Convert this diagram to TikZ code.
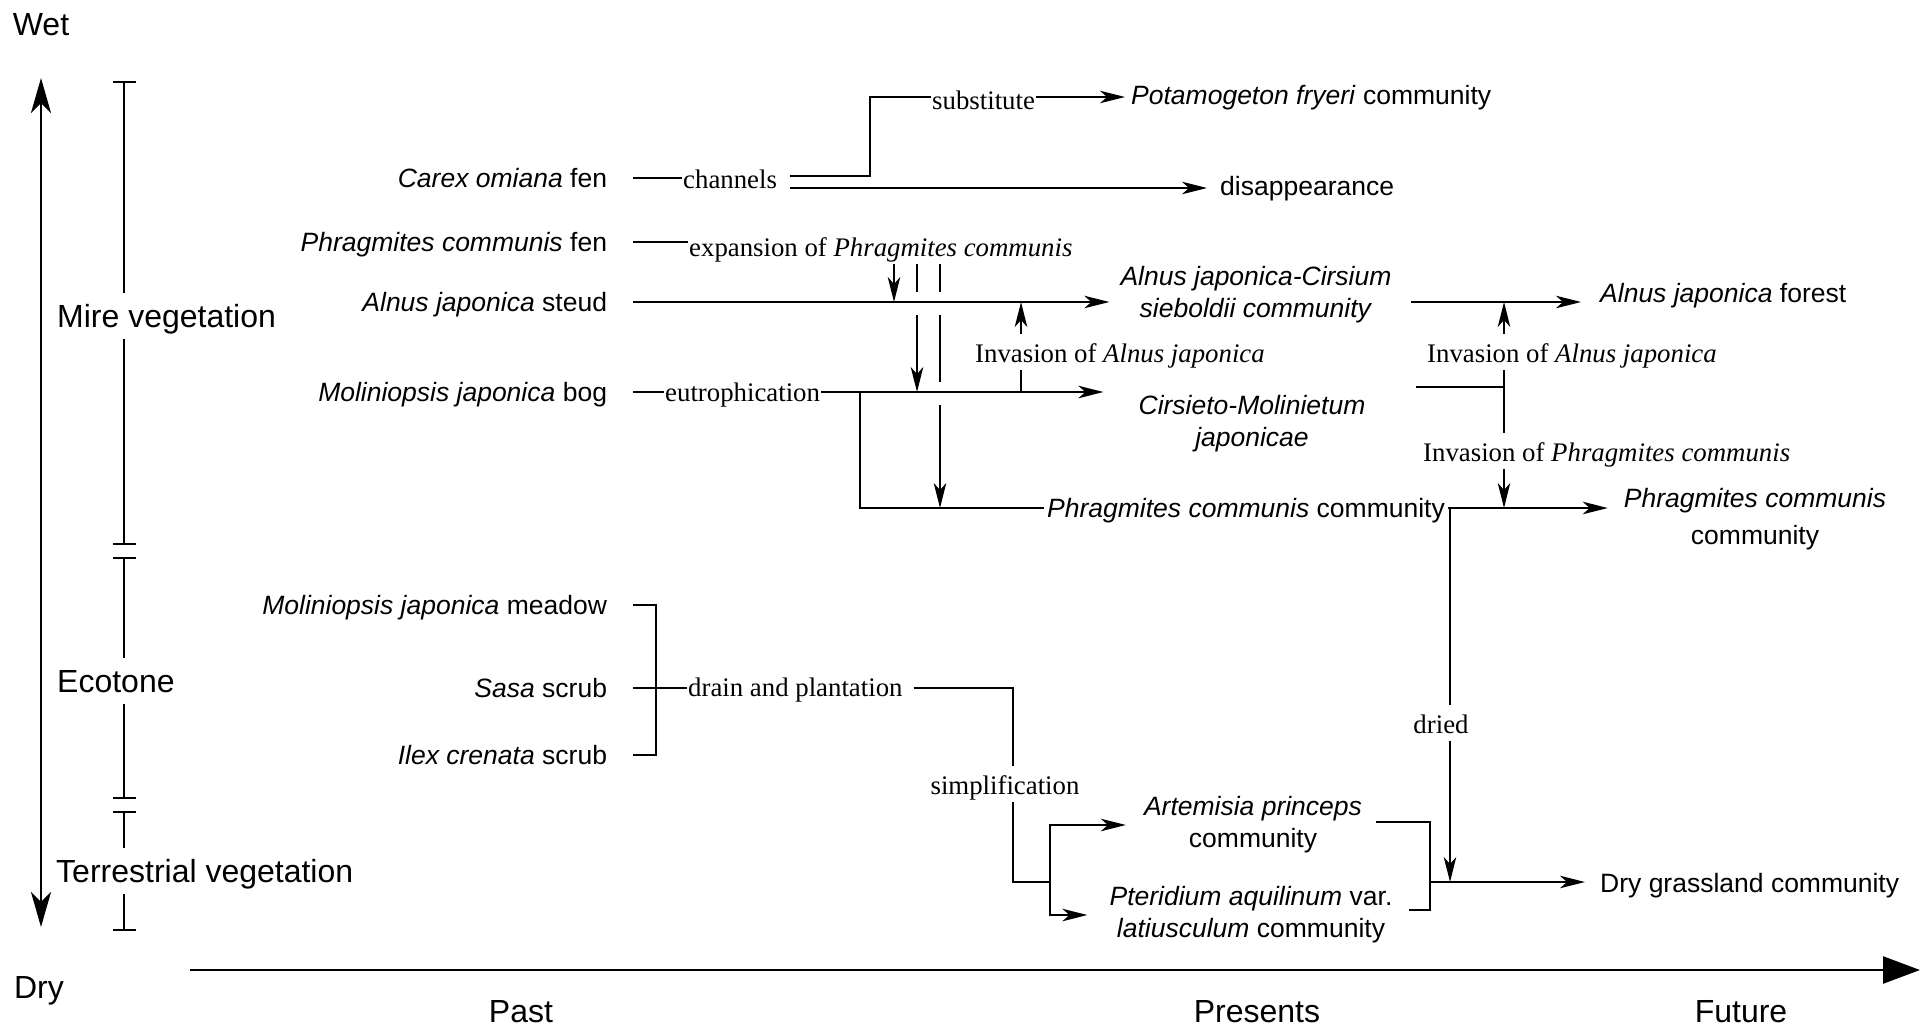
\documentclass[tikz,border=0pt]{standalone}
\usepackage{fontspec}
\setmainfont{Liberation Serif}
\setsansfont{Liberation Sans}
\usetikzlibrary{arrows.meta}

\newcommand{\labelfont}{\sffamily\fontsize{26.5}{32}\selectfont}
\newcommand{\notefont}{\rmfamily\fontsize{26.8}{32}\selectfont}
\newcommand{\axisfont}{\sffamily\fontsize{32}{38}\selectfont}

\begin{document}
\begin{tikzpicture}[x=1pt,y=-1pt,
  lbl/.style={font=\labelfont,text height=19pt,text depth=0pt,inner sep=3pt},
  src/.style={lbl,anchor=east,inner xsep=0pt,outer xsep=26pt},
  two/.style={font=\labelfont,align=center,inner sep=3pt},
  note/.style={font=\notefont,text height=21pt,text depth=0pt,inner xsep=1pt,inner ysep=7.5pt},
  zone/.style={font=\axisfont,text height=23pt,text depth=0pt,inner xsep=0pt,inner ysep=11pt,anchor=west},
  axislbl/.style={font=\axisfont,text height=23pt,text depth=0pt},
  link/.style={line width=2pt},
  thinlink/.style={line width=1.7pt},
  flow/.style={link,-{Stealth[length=25pt,width=12.5pt,inset=7pt]}},
  drop/.style={thinlink,-{Stealth[length=25pt,width=12.5pt,inset=7pt]}},
  zonebar/.style={line width=2pt},
  gapend/.style={shorten >=10pt},
  gapstart/.style={shorten <=13pt},
  moist/.style={line width=2.6pt,{Stealth[length=35pt,width=20pt,inset=10pt]}-{Stealth[length=35pt,width=20pt,inset=10pt]}},
  timeline/.style={line width=2.4pt,-{Triangle[length=37pt,width=27pt]}}]
\useasboundingbox (0,0) rectangle (1920,1026);

% Axis words
\node[axislbl] (wet) at (41,24) {Wet};
\node[axislbl] (dry) at (39,987) {Dry};
\node[axislbl] (past) at (521,1011) {Past};
\node[axislbl] (pres) at (1257,1011) {Presents};
\node[axislbl] (fut) at (1741,1011) {Future};

% Wet - dry gradient and time axis
\coordinate (wtop) at (41,78);
\coordinate (wbot) at (41,927);
\draw[moist] (wtop) -- (wbot);
\coordinate (tstart) at (190,970);
\coordinate (tend) at (1920,970);
\draw[timeline] (tstart) -- (tend);

% Vegetation zones
\node[zone] (mire) at (57,316) {Mire vegetation};
\node[zone] (eco) at (57,681) {Ecotone};
\node[zone] (terr) at (56,871) {Terrestrial vegetation};
\coordinate (z1) at (124,81);
\coordinate (z2) at (124,545);
\coordinate (z3) at (124,557);
\coordinate (z4) at (124,799);
\coordinate (z5) at (124,811);
\coordinate (z6) at (124,931);
\draw[zonebar,{Bar[width=23pt]}-] (z1) -- (z1 |- mire.north);
\draw[zonebar,-{Bar[width=23pt]}] (z1 |- mire.south) -- (z2);
\draw[zonebar,{Bar[width=23pt]}-] (z3) -- (z3 |- eco.north);
\draw[zonebar,-{Bar[width=23pt]}] (z3 |- eco.south) -- (z4);
\draw[zonebar,{Bar[width=23pt]}-] (z5) -- (z5 |- terr.north);
\draw[zonebar,-{Bar[width=23pt]}] (z5 |- terr.south) -- (z6);

% Past communities
\node[src] (carex) at (633,178) {\textit{Carex omiana} fen};
\node[src] (phfen) at (633,242) {\textit{Phragmites communis} fen};
\node[src] (alnus) at (633,302) {\textit{Alnus japonica} steud};
\node[src] (molbog) at (633,392) {\textit{Moliniopsis japonica} bog};
\node[src] (molmead) at (633,605) {\textit{Moliniopsis japonica} meadow};
\node[src] (sasa) at (633,688) {\textit{Sasa} scrub};
\node[src] (ilex) at (633,755) {\textit{Ilex crenata} scrub};

% Processes
\node[note,anchor=west] (chan) at (682,178) {channels};
\node[note,anchor=west] (subst) at (931,99) {substitute};
\node[note,anchor=west] (expn) at (688,246) {expansion of \textit{Phragmites communis}};
\node[note,anchor=west] (eutro) at (664,391) {eutrophication};
\node[note,anchor=west] (invA) at (974,352) {Invasion of \textit{Alnus japonica}};
\node[note,anchor=west] (invB) at (1426,352) {Invasion of \textit{Alnus japonica}};
\node[note,anchor=west] (invC) at (1422,451) {Invasion of \textit{Phragmites communis}};
\node[note,anchor=west] (drain) at (687,686) {drain and plantation};
\node[note] (simpl) at (1005,784) {simplification};
\node[note] (dried) at (1441,723) {dried};

% Present and future communities
\node[lbl,anchor=west] (potam) at (1128,95) {\textit{Potamogeton fryeri} community};
\node[lbl,anchor=west] (disap) at (1217,186) {disappearance};
\node[two] (alcir) at (1256,295) {\textit{Alnus japonica-Cirsium}\\\textit{sieboldii community}};
\node[two] (cirmol) at (1252,424) {\textit{Cirsieto-Molinietum}\\\textit{japonicae}};
\node[lbl,anchor=west] (alfor) at (1597,293) {\textit{Alnus japonica} forest};
\node[lbl,anchor=west] (phcom) at (1044,508) {\textit{Phragmites communis} community};
\node[two,font=\sffamily\fontsize{26.5}{37}\selectfont] (phfut) at (1755,519) {\textit{Phragmites communis}\\community};
\node[two] (artem) at (1253,825) {\textit{Artemisia princeps}\\community};
\node[two] (pterid) at (1251,915) {\textit{Pteridium aquilinum} var.\\\textit{latiusculum} community};
\node[lbl,anchor=west] (drygr) at (1597,883) {Dry grassland community};

% Carex fen
\draw[link] (carex.east) -- (chan.west);
\coordinate (chup) at (790,176);
\coordinate (chdn) at (790,188);
\coordinate (chbend) at (870,97);
\draw[link] (chup) -| (chbend) -- (chbend -| subst.west);
\draw[flow,shorten >=3pt] (subst.east |- chbend) -- (potam.west |- chbend);
\draw[flow,shorten >=10pt] (chdn) -- (disap.west |- chdn);

% Phragmites fen
\draw[link] (phfen.east) -- (phfen.east -| expn.west);
\coordinate (j1) at (894,302);
\coordinate (j2) at (917,392);
\coordinate (j3) at (940,508);
\draw[drop] (expn.south -| j1) -- (j1);
\draw[thinlink,gapend] (expn.south -| j2) -- (j2 |- j1);
\draw[drop,gapstart] (j2 |- j1) -- (j2);
\draw[thinlink,gapend] (expn.south -| j3) -- (j3 |- j1);
\draw[thinlink,gapstart,gapend] (j3 |- j1) -- (j3 |- j2);
\draw[drop,gapstart] (j3 |- j2) -- (j3);

% Alnus steud
\draw[flow,shorten >=8pt] (alnus.east) -- (alnus.east -| alcir.west);
\coordinate (k1) at (1021,302);
\coordinate (k1b) at (1021,392);
\draw[drop] (invA.north -| k1) -- (k1);
\draw[thinlink] (invA.south -| k1b) -- (k1b);

% Moliniopsis bog
\draw[link] (molbog.east) -- (molbog.east -| eutro.west);
\draw[flow,shorten >=32pt] (eutro.east |- molbog.east) -- (molbog.east -| cirmol.west);
\coordinate (br) at (860,392);
\draw[link] (br) |- (phcom.west);

% Towards the future
\coordinate (k2) at (1504,302);
\draw[flow,shorten <=16pt,shorten >=16pt] (alcir.east |- k2) -- (alfor.west |- k2);
\draw[drop] (invB.north -| k2) -- (k2);
\coordinate (k3) at (1504,387);
\coordinate (cmend) at (1416,387);
\draw[link] (cmend) -- (k3);
\draw[thinlink] (invB.south -| k3) -- (invC.north -| k3);
\coordinate (k4) at (1504,508);
\draw[drop] (invC.south -| k4) -- (k4);
\draw[flow,shorten >=13pt] (phcom.east) -- (phcom.east -| phfut.west);

% Drying
\coordinate (dr) at (1450,508);
\coordinate (dgj) at (1450,882);
\draw[thinlink] (dr) -- (dried.north -| dr);
\draw[drop] (dried.south -| dgj) -- (dgj);
\coordinate (gj) at (1430,882);
\coordinate (gA) at (1376,822);
\coordinate (gB) at (1409,910);
\draw[link] (gA) -| (gj) |- (gB);
\draw[flow,shorten >=12pt] (gj) -- (gj -| drygr.west);

% Ecotone
\coordinate (mj) at (656,688);
\draw[link] (molmead.east) -| (mj) |- (ilex.east);
\draw[link] (sasa.east) -- (sasa.east -| drain.west);
\coordinate (sj) at (1013,688);
\coordinate (sk) at (1050,882);
\draw[link,shorten <=10pt] (drain.east |- sj) -| (simpl.north -| sj);
\draw[link] (simpl.south -| sj) |- (sk);
\draw[flow,shorten >=15pt] (sk) |- (artem.west);
\draw[flow,shorten >=19pt] (sk) |- (pterid.west);
\end{tikzpicture}
\end{document}
